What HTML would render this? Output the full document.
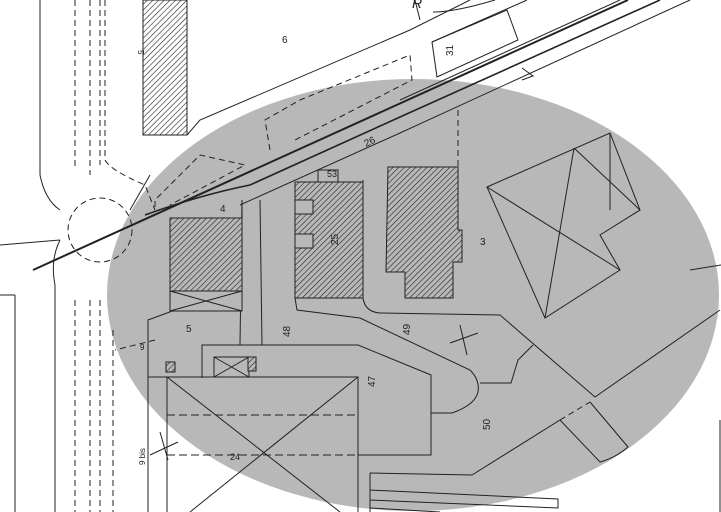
<!DOCTYPE html>
<html><head><style>html,body{margin:0;padding:0;background:#fff}svg{display:block}</style></head>
<body>
<svg width="721" height="512" viewBox="0 0 721 512" xmlns="http://www.w3.org/2000/svg" font-family="Liberation Sans, sans-serif">
<defs>
<pattern id="h" width="4" height="4" patternUnits="userSpaceOnUse" patternTransform="rotate(45)">
<rect width="4" height="4" fill="#fff"/><line x1="0" y1="0" x2="0" y2="4" stroke="#222" stroke-width="1.2"/></pattern>
<pattern id="hg" width="4" height="4" patternUnits="userSpaceOnUse" patternTransform="rotate(45)">
<rect width="4" height="4" fill="#b8b8b8"/><line x1="0" y1="0" x2="0" y2="4" stroke="#222" stroke-width="1.2"/></pattern>
</defs>
<rect width="721" height="512" fill="#fff"/>
<ellipse cx="413" cy="295" rx="306" ry="216" fill="#b8b8b8"/>
<g fill="none" stroke="#222" stroke-width="1">
<line x1="0" y1="245" x2="60" y2="240"/>
<line x1="15" y1="295" x2="15" y2="512"/>
<line x1="0" y1="295" x2="15" y2="295"/>
<line x1="40" y1="0" x2="40" y2="175"/>
<path d="M40 175 Q45 200 60 210" />
<path d="M60 240 Q50 260 55 285 L55 512"/>
<g stroke-dasharray="6,4">
<line x1="75" y1="0" x2="75" y2="170"/>
<line x1="90" y1="0" x2="90" y2="175"/>
<line x1="100" y1="0" x2="100" y2="165"/>
<line x1="75" y1="300" x2="75" y2="512"/>
<line x1="90" y1="300" x2="90" y2="512"/>
<line x1="100" y1="300" x2="100" y2="512"/>
<line x1="113" y1="330" x2="113" y2="512"/>
<circle cx="100" cy="230" r="32"/>
<path d="M105 0 L105 160 Q110 170 145 185 L155 210"/>
<path d="M155 207 L155 200 L200 155 L245 165 L170 205"/>
<path d="M270 150 L265 120 L300 100 L410 55 L412 80 L295 140"/>
<path d="M155 340 L115 350"/>
<line x1="458" y1="110" x2="458" y2="170"/>
<line x1="560" y1="420" x2="590" y2="402"/>
</g>
<line x1="33" y1="270" x2="628" y2="0" stroke-width="2"/>
<path d="M145 215 Q200 195 250 185 L400 117 L660 0" stroke-width="1.6"/>
<path d="M240 205 L400 133 L690 0"/>
<path d="M400 100 L620 0"/>
<path d="M522 68 L533 76 L522 80"/>
<line x1="150" y1="175" x2="130" y2="210"/>
<path d="M187 135 L200 120 L410 30 L470 0"/>
<path d="M432 42 L437 77 L518 40 L507 10 Z"/>
<path d="M432 42 L527 0"/>
<path d="M433 12 Q455 12 495 0"/>
<path d="M415 0 L420 20"/>
<path d="M148 378 L148 320 L175 310 L242 305 L242 200"/>
<line x1="242" y1="200" x2="240" y2="345"/>
<line x1="260" y1="200" x2="262" y2="345"/>
<path d="M295 298 L297 310 L360 318 L470 370 Q480 380 478 392 Q475 405 452 413 L431 413"/>
<path d="M363 180 L363 298 Q365 312 380 313 L500 315 L595 397 L720 310"/>
<path d="M533 345 L518 360 L511 383 L480 383"/>
<path d="M202 378 L202 345 L358 345 L431 375 L431 455 L358 455"/>
<path d="M370 473 L472 475 L560 420 L600 462 Q615 458 628 447 L590 402"/>
<path d="M370 490 L558 499 L558 508 L370 500"/>
<path d="M370 508 L440 512"/>
<line x1="720" y1="420" x2="720" y2="512"/>
<line x1="690" y1="270" x2="721" y2="265"/>
<rect x="167" y="377" width="191" height="140"/>
<line x1="167" y1="377" x2="340" y2="512"/>
<line x1="358" y1="377" x2="190" y2="512"/>
<line x1="167" y1="415" x2="358" y2="415" stroke-dasharray="8,4"/>
<line x1="167" y1="455" x2="358" y2="455" stroke-dasharray="8,4"/>
<path d="M370 473 L370 512"/>
<line x1="148" y1="378" x2="148" y2="512"/>
<line x1="148" y1="377" x2="167" y2="377"/>
<path d="M150 455 L178 442 M160 432 L168 460"/>
<polygon points="487,187 610,133 640,210 600,235 620,270 545,318"/>
<line x1="487" y1="187" x2="620" y2="270"/>
<line x1="574" y1="148" x2="545" y2="318"/>
<line x1="574" y1="148" x2="640" y2="210"/>
<line x1="610" y1="133" x2="610" y2="210"/>
<line x1="450" y1="343" x2="478" y2="333"/>
<line x1="460" y1="325" x2="467" y2="355"/>
</g>
<rect x="143" y="0" width="44" height="135" fill="url(#h)" stroke="#222"/>
<rect x="170" y="218" width="72" height="73" fill="url(#hg)" stroke="#222"/>
<rect x="170" y="291" width="72" height="20" fill="#b8b8b8" stroke="#222"/>
<path d="M170 291 L242 311 M242 291 L170 311" stroke="#222" fill="none"/>
<rect x="295" y="182" width="68" height="116" fill="url(#hg)" stroke="#222"/>
<rect x="318" y="170" width="20" height="12" fill="#b8b8b8" stroke="#222"/>
<rect x="295" y="200" width="18" height="14" fill="#b8b8b8" stroke="#222"/>
<rect x="295" y="234" width="18" height="14" fill="#b8b8b8" stroke="#222"/>
<polygon points="388,167 458,167 458,230 462,230 462,262 453,262 453,298 405,298 405,272 386,272" fill="url(#hg)" stroke="#222"/>
<rect x="214" y="357" width="35" height="20" fill="#b8b8b8" stroke="#222"/>
<path d="M214 357 L249 377 M249 357 L214 377" stroke="#222"/>
<rect x="248" y="357" width="8" height="14" fill="url(#hg)" stroke="#222"/>
<rect x="166" y="362" width="9" height="10" fill="url(#hg)" stroke="#222"/>
<g font-size="10" fill="#222">
<text x="282" y="43">6</text>
<text x="138" y="50" font-size="8" transform="rotate(90 138 50)">5</text>
<text x="453" y="56" transform="rotate(-90 453 56)">31</text>
<text x="366" y="147" transform="rotate(-25 366 147)">26</text>
<text x="327" y="177" font-size="9">53</text>
<text x="220" y="212">4</text>
<text x="335" y="238" transform="rotate(-90 340 240)">25</text>
<text x="480" y="245">3</text>
<text x="186" y="332">5</text>
<text x="283" y="330" transform="rotate(-90 290 330)">48</text>
<text x="405" y="330" transform="rotate(-90 410 330)">49</text>
<text x="370" y="382" transform="rotate(-90 375 382)">47</text>
<text x="485" y="425" transform="rotate(-90 490 425)">50</text>
<text x="140" y="350" font-size="8">9</text>
<text x="140" y="460" font-size="8" transform="rotate(-90 145 460)">9 bis</text>
<text x="230" y="460" font-size="9">24</text>
<text x="412" y="8" font-size="14" font-style="italic">R</text>
</g>
</svg>
</body></html>
